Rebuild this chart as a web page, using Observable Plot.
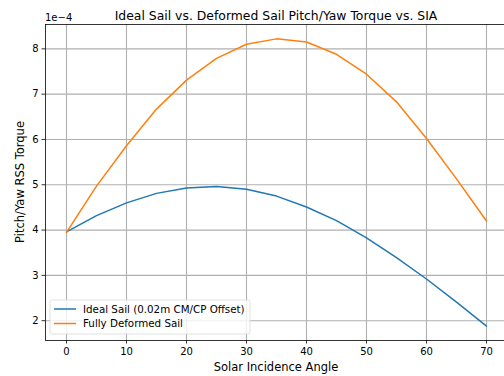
<!DOCTYPE html>
<html>
<head>
<meta charset="utf-8">
<script src="https://cdn.jsdelivr.net/npm/d3@7"></script>
<script src="https://cdn.jsdelivr.net/npm/@observablehq/plot@0.6"></script>
<style>
  html, body { margin: 0; padding: 0; background: #fff; }
  #chart svg { display: block; }
</style>
</head>
<body>
<div id="chart"></div>
<script>
// Data (torque in units of 1e-4)
const sia = [0, 5, 10, 15, 20, 25, 30, 35, 40, 45, 50, 55, 60, 65, 70];
const idealTorque = [3.96, 4.32, 4.60, 4.81, 4.93, 4.96, 4.90, 4.75, 4.51, 4.21, 3.83, 3.39, 2.92, 2.41, 1.88];
const deformedTorque = [3.95, 4.97, 5.86, 6.67, 7.31, 7.79, 8.10, 8.22, 8.15, 7.88, 7.44, 6.83, 6.02, 5.13, 4.20];
const seriesNames = ["Ideal Sail (0.02m CM/CP Offset)", "Fully Deformed Sail"];
const seriesColors = ["#1f77b4", "#ff7f0e"];
const xTicks = [0, 10, 20, 30, 40, 50, 60, 70];
const yTicks = [2, 3, 4, 5, 6, 7, 8];
const titleText = "Ideal Sail vs. Deformed Sail Pitch/Yaw Torque vs. SIA";
const xLabel = "Solar Incidence Angle";
const yLabel = "Pitch/Yaw RSS Torque";
const offsetText = "1e\u22124";

const rows = [];
[idealTorque, deformedTorque].forEach((arr, si) => {
  arr.forEach((v, i) => rows.push({x: sia[i], y: v, s: seriesNames[si]}));
});

const W = 504, H = 376;
const mL = 45, mR = 0, mT = 24, mB = 36;
const xDom = [-3.5, 73], yDom = [1.563, 8.537];
const font = "DejaVu Sans, sans-serif";

const chart = Plot.plot({
  width: W, height: H,
  marginLeft: mL, marginRight: mR, marginTop: mT, marginBottom: mB,
  style: {fontFamily: font, fontSize: "10px", color: "#000", background: "#fff", overflow: "visible"},
  x: {domain: xDom, label: null},
  y: {domain: yDom, label: null},
  color: {domain: seriesNames, range: seriesColors},
  marks: [
    Plot.gridX(xTicks, {stroke: "#b0b0b0", strokeOpacity: 1, strokeWidth: 1.1}),
    Plot.gridY(yTicks, {stroke: "#b0b0b0", strokeOpacity: 1, strokeWidth: 1.1}),
    Plot.line(rows, {x: "x", y: "y", z: "s", stroke: "s", strokeWidth: 1.5}),
    Plot.axisX(xTicks, {tickSize: 3.5, tickPadding: 3.5, stroke: "#000", strokeWidth: 0.8, fontSize: 10, label: null}),
    Plot.axisY(yTicks, {tickSize: 3.5, tickPadding: 3.5, stroke: "#000", strokeWidth: 0.8, fontSize: 10, label: null}),
    Plot.ruleX([xDom[0]], {stroke: "#000", strokeWidth: 0.8}),
    Plot.ruleY(yDom, {stroke: "#000", strokeWidth: 0.8})
  ]
});

const svg = d3.select(chart);
function addText(x, y, size, anchor, txt, transform) {
  const t = svg.append("text").attr("text-anchor", anchor)
    .attr("font-family", font).attr("font-size", size).attr("fill", "#000").text(txt);
  if (transform) t.attr("transform", transform); else t.attr("x", x).attr("y", y);
  return t;
}
addText(276, 20, 12.4, "middle", titleText);
addText(45, 21, 10, "start", offsetText);
addText(276, 371, 11.5, "middle", xLabel);
addText(0, 0, 11.5, "middle", yLabel, "translate(24,182) rotate(-90)");

// Legend
const lg = svg.append("g");
lg.append("rect").attr("x", 50).attr("y", 300).attr("width", 200).attr("height", 34).attr("rx", 2)
  .attr("fill", "#fff").attr("fill-opacity", 0.8).attr("stroke", "#d9d9d9").attr("stroke-width", 0.8);
seriesNames.forEach((n, i) => {
  const cy = 309 + i * 14.5;
  lg.append("line").attr("x1", 54).attr("x2", 76).attr("y1", cy).attr("y2", cy)
    .attr("stroke", seriesColors[i]).attr("stroke-width", 1.5);
  lg.append("text").attr("x", 83).attr("y", cy).attr("dy", "0.35em").attr("text-anchor", "start")
    .attr("font-family", font).attr("font-size", 10.3).attr("fill", "#000").text(n);
});

document.getElementById("chart").appendChild(chart);
</script>
</body>
</html>
